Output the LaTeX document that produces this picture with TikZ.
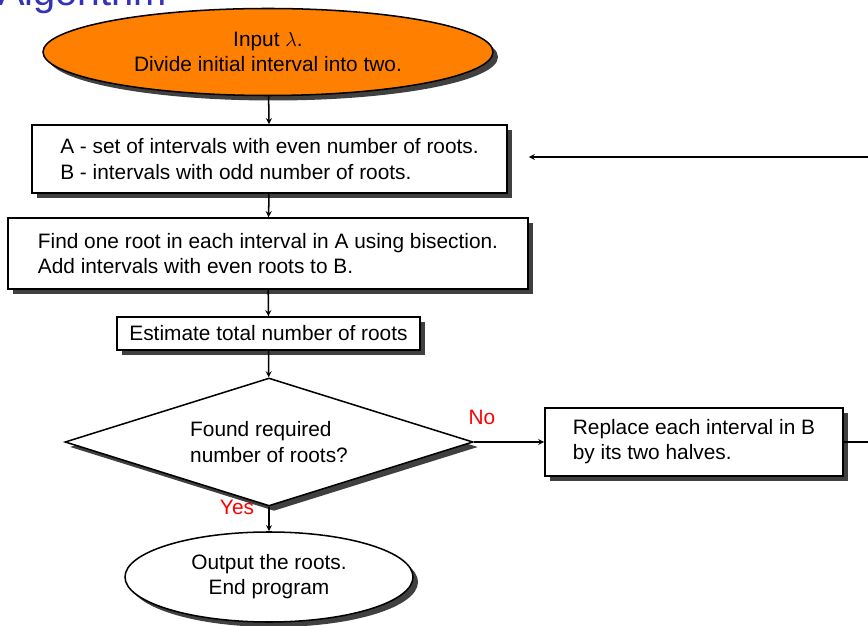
\documentclass[tikz,border=0pt]{standalone}
\usepackage{fontspec}
\setmainfont{Liberation Sans}
\usetikzlibrary{shapes.geometric,shadows}
\definecolor{titleblue}{RGB}{51,51,179}
\definecolor{startorange}{RGB}{255,128,0}
\tikzset{
	flow/.style={draw, line width=1.3pt, fill=white, font=\fontsize{17.8pt}{21.5pt}\selectfont,
		drop shadow={shadow xshift=0.15cm, shadow yshift=-0.15cm, fill=black!75, opacity=1}},
	procbox/.style={flow, rectangle, align=left, inner sep=0pt},
	terminal/.style={flow, ellipse, align=center, inner sep=0pt},
	decision/.style={flow, diamond, aspect=3.2, align=left, inner sep=0pt},
	link/.style={->, line width=1.3pt, >=stealth},
	answer/.style={text=red, font=\fontsize{17.8pt}{20pt}\selectfont}
}
\begin{document}
\begin{tikzpicture}[x=0.03cm, y=-0.03cm]
		\useasboundingbox (0,0) rectangle (868,626);
		% Titel
		\node[anchor=base west, inner sep=0pt, text=titleblue, font=\fontsize{34pt}{34pt}\selectfont]
			(title) at (-2,6) {Algorithm};
		% Knoten
		\node[terminal, fill=startorange, minimum width=13.5cm, minimum height=2.61cm] (start) at (268,52)
			{Input $\lambda$.\\Divide initial interval into two.};
		\node[procbox, minimum width=14.25cm, minimum height=2.04cm] (sets) at (269.5,159)
			{A - set of intervals with even number of roots.\\B - intervals with odd number of roots.};
		\node[procbox, minimum width=15.6cm, minimum height=2.13cm] (bisect) at (268,253.5)
			{Find one root in each interval in A using bisection.\\Add intervals with even roots to B.};
		\node[procbox, align=center, minimum width=9.09cm, minimum height=0.99cm] (count) at (268.5,333.5)
			{Estimate total number of roots};
		\node[decision, minimum width=12.24cm, minimum height=3.84cm] (found) at (269,442)
			{Found required\\number of roots?};
		\node[procbox, minimum width=8.94cm, minimum height=2.04cm] (halve) at (694,442)
			{Replace each interval in B\\by its two halves.};
		\node[terminal, minimum width=8.64cm, minimum height=2.7cm] (stop) at (269,577)
			{Output the roots.\\End program};
		% Pfeile
		\draw[link] (start) -- (sets);
		\draw[link] (sets) -- (bisect);
		\draw[link] (bisect) -- (count);
		\draw[link] (count) -- (found);
		\draw[link] (found.east) -- (halve.west);
		\draw[link] (found.south) -- (stop.north);
		\draw[link] (halve.east) -- ++(40,0) |- ([xshift=0.63cm, yshift=0.06cm]sets.east);
		% Antworten
		\node[answer] (no) at (482,417) {No};
		\node[answer] (yes) at (237,507) {Yes};
	\end{tikzpicture}
\end{document}
